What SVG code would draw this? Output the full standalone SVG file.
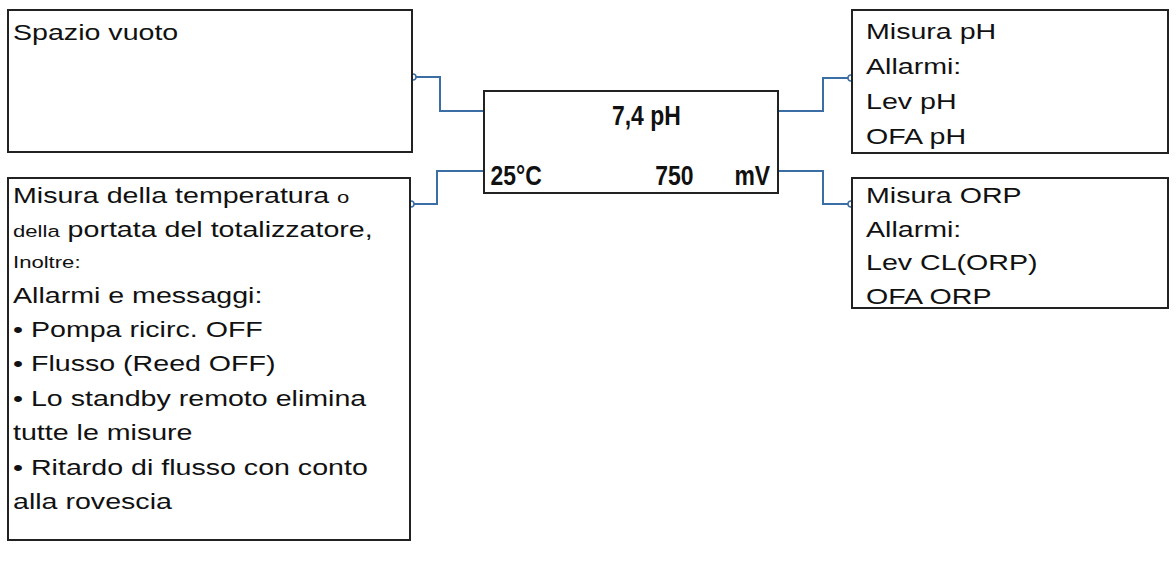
<svg xmlns="http://www.w3.org/2000/svg" width="1176" height="570" viewBox="0 0 1176 570">
<style>
.b{fill:#fff;stroke:#222;stroke-width:2}
.t{font-family:"Liberation Sans",Arial,sans-serif;font-size:22px;fill:#111}
.s{font-size:17px}
.d{font-family:"Liberation Sans",Arial,sans-serif;font-size:27px;font-weight:bold;fill:#111}
.c{fill:none;stroke:#3a6ea5;stroke-width:2}
.o{fill:#fff;stroke:#3a6ea5;stroke-width:1.5}
</style>
<rect width="1176" height="570" fill="#fff"/>
<g id="connectors">
<path class="c" d="M413 77H440V111H484"/>
<path class="c" d="M484 171H437V204H411"/>
<path class="c" d="M778 111H823V78H851"/>
<path class="c" d="M778 171H823V204H851"/>
<circle class="o" cx="413" cy="77" r="3"/>
<circle class="o" cx="411" cy="204" r="3"/>
<circle class="o" cx="851" cy="78" r="3"/>
<circle class="o" cx="851" cy="204" r="3"/>
</g>
<g id="empty">
<rect class="b" x="8" y="10" width="404" height="142"/>
<g transform="translate(13,0) scale(1.3,1)"><text class="t" x="0" y="40">Spazio vuoto</text></g>
</g>
<g id="display">
<rect class="b" x="484" y="91" width="294" height="102"/>
<g transform="scale(0.85,1)">
<text class="d" x="720" y="125">7,4 pH</text>
<text class="d" x="577" y="185">25°C</text>
<text class="d" x="771" y="185">750</text>
<text class="d" x="864" y="185">mV</text>
</g>
</g>
<g id="temp">
<rect class="b" x="8" y="178" width="402" height="362"/>
<g transform="translate(13,0) scale(1.3,1)">
<text class="t" x="0" y="203">Misura della temperatura <tspan class="s">o</tspan></text>
<text class="t" x="0" y="237"><tspan class="s">della</tspan> portata del totalizzatore,</text>
<text class="t s" x="0" y="268">Inoltre:</text>
<text class="t" x="0" y="303">Allarmi e messaggi:</text>
<text class="t" x="0" y="337">• Pompa ricirc. OFF</text>
<text class="t" x="0" y="371">• Flusso (Reed OFF)</text>
<text class="t" x="0" y="406">• Lo standby remoto elimina</text>
<text class="t" x="0" y="440">tutte le misure</text>
<text class="t" x="0" y="475">• Ritardo di flusso con conto</text>
<text class="t" x="0" y="509">alla rovescia</text>
</g>
</g>
<g id="ph">
<rect class="b" x="852" y="10" width="316" height="143"/>
<g transform="translate(866,0) scale(1.3,1)">
<text class="t" x="0" y="39">Misura pH</text>
<text class="t" x="0" y="74">Allarmi:</text>
<text class="t" x="0" y="109">Lev pH</text>
<text class="t" x="0" y="144">OFA pH</text>
</g>
</g>
<g id="orp">
<rect class="b" x="852" y="178" width="316" height="130"/>
<g transform="translate(866,0) scale(1.3,1)">
<text class="t" x="0" y="203">Misura ORP</text>
<text class="t" x="0" y="237">Allarmi:</text>
<text class="t" x="0" y="270">Lev CL(ORP)</text>
<text class="t" x="0" y="304">OFA ORP</text>
</g>
</g>
</svg>
